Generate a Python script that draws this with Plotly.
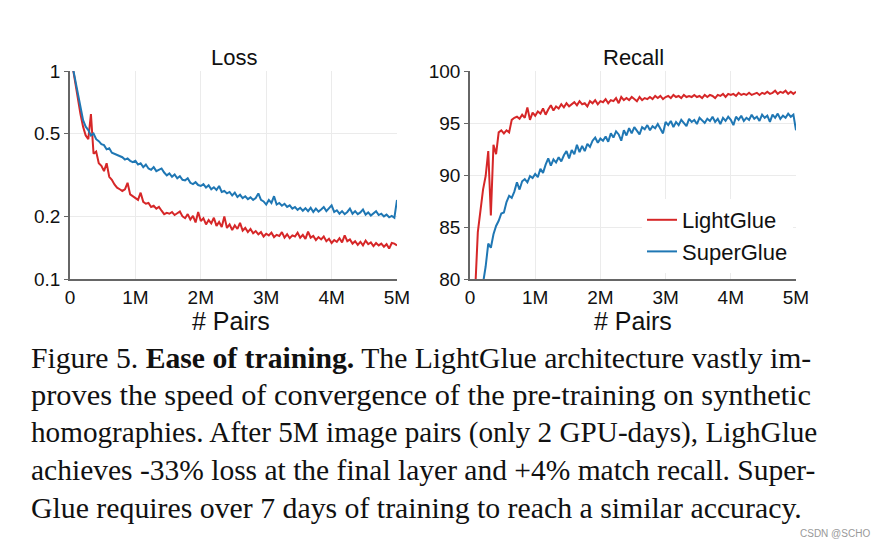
import plotly.graph_objects as go

# ---------------- data ----------------
# training pairs, in millions (sampled every 40k pairs)
pairs_m = [round(0.04 * (i + 1), 2) for i in range(125)]

loss_lightglue = [
    1.05, 0.88, 0.73, 0.62, 0.54, 0.49, 0.47, 0.62, 0.40, 0.41,
    0.36, 0.35, 0.33, 0.36, 0.31, 0.30, 0.285, 0.275, 0.27, 0.265,
    0.27, 0.29, 0.255, 0.25, 0.245, 0.24, 0.26, 0.235, 0.23, 0.232,
    0.222, 0.225, 0.218, 0.222, 0.213, 0.205, 0.208, 0.206, 0.21, 0.203,
    0.207, 0.211, 0.2, 0.196, 0.205, 0.193, 0.201, 0.187, 0.21, 0.19,
    0.196, 0.183, 0.192, 0.185, 0.197, 0.18, 0.188, 0.178, 0.2, 0.176,
    0.183, 0.172, 0.181, 0.174, 0.186, 0.171, 0.176, 0.168, 0.174, 0.166,
    0.17, 0.164, 0.168, 0.16, 0.165, 0.162, 0.167, 0.159, 0.163, 0.161,
    0.168, 0.158, 0.164, 0.157, 0.162, 0.16, 0.167, 0.158, 0.163, 0.156,
    0.169, 0.158, 0.161, 0.154, 0.159, 0.155, 0.16, 0.152, 0.156, 0.149,
    0.154, 0.151, 0.157, 0.15, 0.162, 0.152, 0.155, 0.148, 0.152, 0.146,
    0.151, 0.145, 0.153, 0.147, 0.15, 0.144, 0.149, 0.145, 0.148, 0.143,
    0.147, 0.14, 0.149, 0.148, 0.145,
]
loss_superglue = [
    1.05, 0.9, 0.76, 0.65, 0.58, 0.54, 0.52, 0.49, 0.5, 0.47,
    0.46, 0.445, 0.44, 0.42, 0.425, 0.405, 0.4, 0.395, 0.39, 0.385,
    0.375, 0.38, 0.37, 0.365, 0.37, 0.355, 0.36, 0.345, 0.355, 0.34,
    0.335, 0.345, 0.33, 0.335, 0.34, 0.325, 0.315, 0.322, 0.31, 0.318,
    0.305, 0.312, 0.3, 0.298, 0.305, 0.29, 0.286, 0.292, 0.283, 0.28,
    0.286, 0.275, 0.282, 0.27, 0.276, 0.268, 0.28, 0.262, 0.265, 0.258,
    0.262, 0.252, 0.26, 0.248, 0.254, 0.245, 0.25, 0.242, 0.247, 0.24,
    0.245, 0.258, 0.24, 0.236, 0.228, 0.24, 0.232, 0.25, 0.228, 0.232,
    0.225, 0.23, 0.222, 0.226, 0.218, 0.222, 0.215, 0.22, 0.213, 0.219,
    0.212, 0.22, 0.21, 0.218, 0.211, 0.216, 0.222, 0.212, 0.218, 0.226,
    0.21, 0.214, 0.206, 0.212, 0.205, 0.21, 0.218, 0.206, 0.212, 0.205,
    0.209, 0.216, 0.204, 0.209, 0.202, 0.207, 0.212, 0.203, 0.206, 0.2,
    0.204, 0.198, 0.201, 0.197, 0.24,
]
recall_lightglue = [
    66, 79, 84.5, 86.6, 88.6, 89.9, 92.3, 86.1, 92.9, 92.0,
    94.1, 94.3, 94.0, 94.3, 94.1, 95.3, 95.5, 95.6, 95.4, 95.8,
    95.5, 96.5, 95.3, 96.0, 95.7, 96.1, 95.9, 96.4, 95.8, 96.3,
    96.7, 96.2, 96.6, 96.4, 96.8, 96.5, 96.9, 96.6, 96.8, 97.0,
    96.7, 97.1, 96.8, 96.9, 96.6, 97.1, 96.9, 97.2, 96.8, 97.1,
    97.0, 97.3, 96.9, 97.2, 97.1, 97.4, 96.9, 97.5, 97.2, 97.4,
    97.2, 97.5, 97.3, 97.1, 97.5, 97.2, 97.4, 97.3, 97.5, 97.3,
    97.6, 97.4, 97.6, 97.3, 97.5, 97.6, 97.4, 97.7, 97.5, 97.6,
    97.4, 97.7, 97.5, 97.6, 97.5, 97.7, 97.5, 97.6, 97.4, 97.7,
    97.5, 97.7, 97.6, 97.4, 97.7, 97.6, 97.8, 97.5, 97.8, 97.7,
    97.8, 97.6, 97.9, 97.7, 97.8, 97.7, 97.9, 97.7, 97.8, 97.9,
    97.7, 97.9, 97.8, 98.0, 97.8, 97.9, 98.1, 97.8, 98.0, 97.9,
    98.1, 97.8, 98.0, 97.8, 98.0,
]
recall_superglue = [
    55, 64, 71, 76, 79.6, 81.2, 83.4, 83.0, 84.3, 85.1,
    85.6, 86.3, 86.4, 87.4, 88.0, 87.8, 88.4, 89.3, 88.6, 89.4,
    89.6, 89.3, 89.9, 89.7, 90.1, 89.8, 90.6, 90.2, 91.0, 91.6,
    90.9, 91.5, 91.2, 91.7, 91.3, 91.9, 92.3, 91.6, 92.4, 92.0,
    92.9, 92.2, 92.8, 92.3, 93.0, 92.7, 93.3, 93.6, 93.1, 93.5,
    93.3, 93.7, 93.2, 94.0, 93.6, 94.2, 93.9, 93.3, 94.3, 93.8,
    94.5, 94.0, 94.6, 94.2, 93.9, 94.6, 94.4, 94.8, 94.3, 94.7,
    94.5, 94.9, 94.4, 94.0, 95.1, 94.8, 95.2, 94.6, 95.1, 94.8,
    95.3, 95.0, 94.7, 95.4, 95.1, 95.3, 94.9, 95.5, 95.2, 95.0,
    95.4, 95.2, 95.6, 95.1, 95.4, 94.9, 95.5, 95.2, 95.6, 95.3,
    94.8, 95.6, 95.3, 95.7, 95.2, 95.5, 95.3, 95.8, 95.4, 95.6,
    95.2, 95.8, 95.5, 95.7, 95.1, 95.8, 95.5, 95.9, 95.4, 95.7,
    95.5, 95.9, 95.6, 95.8, 94.3,
]
assert len(loss_lightglue) == len(loss_superglue) == len(recall_lightglue) == len(recall_superglue) == len(pairs_m)

x_tick_vals = [0, 1, 2, 3, 4, 5]
x_tick_text = ["0", "1M", "2M", "3M", "4M", "5M"]
loss_tick_vals = [0.1, 0.2, 0.5, 1]
loss_tick_text = ["0.1", "0.2", "0.5", "1"]
recall_tick_vals = [80, 85, 90, 95, 100]

caption_lines = [
    "Figure 5. <b>Ease of training.</b> The LightGlue architecture vastly im-",
    "proves the speed of convergence of the pre-training on synthetic",
    "homographies. After 5M image pairs (only 2 GPU-days), LighGlue",
    "achieves -33% loss at the final layer and +4% match recall. Super-",
    "Glue requires over 7 days of training to reach a similar accuracy.",
]

# ---------------- figure ----------------
# the page body has an 8px margin, so the figure is drawn at (8, 8)
OFF = 8
W, H = 888 - OFF, 546 - OFF
RED = "#d62728"
BLUE = "#1f77b4"
SANS = "Liberation Sans, Arial, sans-serif"
SERIF = "Liberation Serif, Times New Roman, serif"


def px(x):
    return (x - OFF) / W


def py(y):
    return 1 - (y - OFF) / H


fig = go.Figure()
fig.add_trace(go.Scatter(x=pairs_m, y=loss_lightglue, mode="lines", line=dict(color=RED, width=2),
                         xaxis="x", yaxis="y", showlegend=False, name="LightGlue"))
fig.add_trace(go.Scatter(x=pairs_m, y=loss_superglue, mode="lines", line=dict(color=BLUE, width=2),
                         xaxis="x", yaxis="y", showlegend=False, name="SuperGlue"))
fig.add_trace(go.Scatter(x=pairs_m, y=recall_lightglue, mode="lines", line=dict(color=RED, width=2),
                         xaxis="x2", yaxis="y2", name="LightGlue"))
fig.add_trace(go.Scatter(x=pairs_m, y=recall_superglue, mode="lines", line=dict(color=BLUE, width=2),
                         xaxis="x2", yaxis="y2", name="SuperGlue"))

axis_common = dict(
    showline=True, linecolor="#666666", linewidth=1.5, mirror=False,
    showgrid=True, gridcolor="#ebebeb", gridwidth=1, zeroline=False,
    tickfont=dict(family=SANS, size=19, color="#111111"),
    tickcolor="#666666", automargin=False,
)
x_common = dict(ticks="", **axis_common)
y_common = dict(ticks="outside", ticklen=4, **axis_common)
top, bottom = py(71), py(279)
fig.update_layout(
    width=W, height=H, autosize=False,
    margin=dict(l=0, r=0, t=0, b=0, pad=0, autoexpand=False),
    paper_bgcolor="white", plot_bgcolor="white",
    xaxis=dict(domain=[px(70), px(397)], range=[0, 5], tickvals=x_tick_vals, ticktext=x_tick_text,
               anchor="y", **x_common),
    yaxis=dict(domain=[bottom, top], type="log", range=[-1, 0], tickvals=loss_tick_vals,
               ticktext=loss_tick_text, anchor="x", **y_common),
    xaxis2=dict(domain=[px(470), px(796)], range=[0, 5], tickvals=x_tick_vals, ticktext=x_tick_text,
                anchor="y2", **x_common),
    yaxis2=dict(domain=[bottom, top], range=[80, 100], tickvals=recall_tick_vals, anchor="x2",
                **y_common),
    legend=dict(x=px(642), y=py(199), xanchor="left", yanchor="top",
                bgcolor="white", borderwidth=0,
                font=dict(family=SANS, size=22, color="#111111")),
    showlegend=True,
)

ann = []
ann.append(dict(text="Loss", x=px(234), y=py(57), xref="paper", yref="paper", showarrow=False,
                font=dict(family=SANS, size=22, color="#111111"), xanchor="center", yanchor="middle"))
ann.append(dict(text="Recall", x=px(633), y=py(57), xref="paper", yref="paper", showarrow=False,
                font=dict(family=SANS, size=22, color="#111111"), xanchor="center", yanchor="middle"))
for cx in (231, 633):
    ann.append(dict(text="# Pairs", x=px(cx), y=py(321), xref="paper", yref="paper", showarrow=False,
                    font=dict(family=SANS, size=25, color="#111111"), xanchor="center", yanchor="middle"))
line_y = [358, 395, 432, 470, 507]
line_size = [29.7, 30.4, 29.2, 29.5, 29.8]
for txt, ly, fs in zip(caption_lines, line_y, line_size):
    ann.append(dict(text=txt, x=px(29), y=py(ly), xref="paper", yref="paper", showarrow=False,
                    font=dict(family=SERIF, size=fs, color="#111111"), xanchor="left", yanchor="middle"))
ann.append(dict(text="CSDN @SCHO", x=px(872), y=py(533), xref="paper", yref="paper", showarrow=False,
                font=dict(family=SANS, size=10, color="#999999"), xanchor="right", yanchor="middle"))
fig.update_layout(annotations=ann)

fig.write_html("out.html")
